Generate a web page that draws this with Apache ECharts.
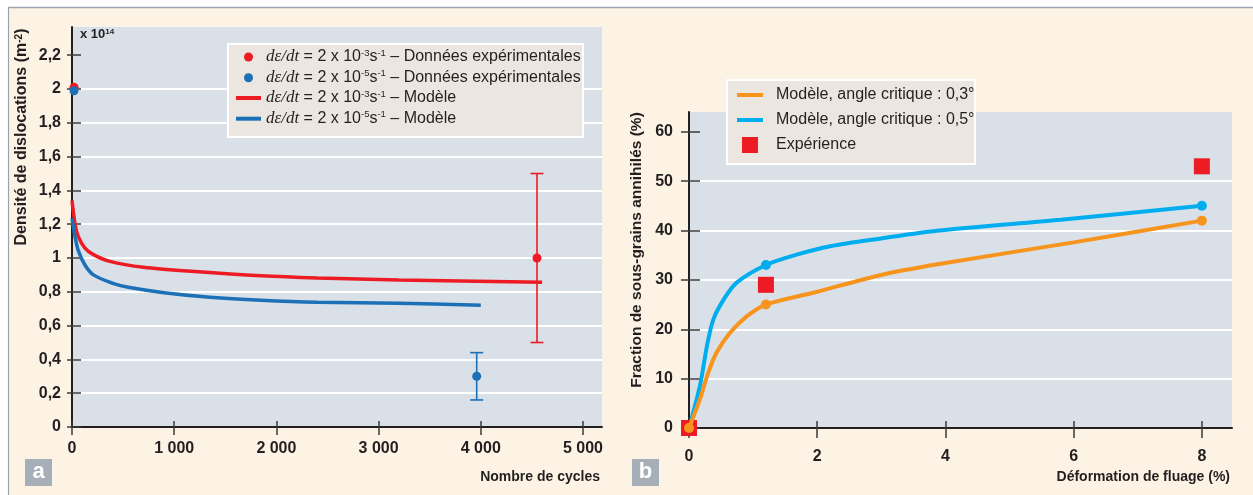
<!DOCTYPE html>
<html>
<head>
<meta charset="utf-8">
<script src="https://cdn.jsdelivr.net/npm/echarts@6/dist/echarts.min.js"></script>
<style>
  html, body { margin: 0; padding: 0; background: #ffffff; }
  #chart { width: 1253px; height: 495px; }
</style>
</head>
<body>
<div id="chart"></div>
<script>
// ---- Panel a: dislocation density (x 10^14 m^-2) versus number of cycles ----
const cyclesRedModel  = [0, 30, 60, 125, 210, 370, 700, 1200, 1850, 2400, 3200, 4600];
const densityRedModel = [1.34, 1.2, 1.13, 1.06, 1.02, 0.98, 0.945, 0.92, 0.895, 0.882, 0.87, 0.857];
const cyclesBlueModel  = [0, 30, 60, 125, 210, 400, 550, 900, 1350, 1850, 2400, 3200, 4000];
const densityBlueModel = [1.235, 1.126, 1.047, 0.96, 0.9, 0.85, 0.827, 0.795, 0.768, 0.75, 0.738, 0.732, 0.72];
const cyclesRedExp   = [20, 4550];
const densityRedExp  = [2.01, 1.0];
const cyclesRedBar   = [4550];
const redBarLow      = [0.5];
const redBarHigh     = [1.5];
const cyclesBlueExp  = [20, 3960];
const densityBlueExp = [1.99, 0.3];
const cyclesBlueBar  = [3960];
const blueBarLow     = [0.16];
const blueBarHigh    = [0.44];
const densityTicks = [0, 0.2, 0.4, 0.6, 0.8, 1, 1.2, 1.4, 1.6, 1.8, 2, 2.2];
const cycleTicks   = [0, 1000, 2000, 3000, 4000, 5000];

// ---- Panel b: fraction of annihilated sub-grains versus creep strain ----
const strain03   = [0, 0.17, 0.3, 0.43, 0.64, 0.9, 1.2, 1.94, 3, 3.9, 6, 8];
const fraction03 = [0, 5.8, 11.2, 15.3, 19.3, 22.6, 25, 27.4, 31, 33.2, 37.6, 42];
const strain05   = [0, 0.17, 0.28, 0.38, 0.54, 0.74, 1.2, 1.68, 2.2, 3, 3.9, 5.8, 8];
const fraction05 = [0, 8.5, 16.6, 22, 26, 29.4, 33, 35.1, 36.8, 38.4, 40, 42.2, 45];
const markedStrains = [0, 1.2, 8];
const strainExp   = [0, 1.2, 8];
const fractionExp = [0, 29, 53];
const fractionTicks = [0, 10, 20, 30, 40, 50, 60];
const strainTicks   = [0, 2, 4, 6, 8];

// Series names and legend labels
const nameRedExp   = 'dε/dt = 2 x 10-3 s-1 – Données expérimentales';
const nameBlueExp  = 'dε/dt = 2 x 10-5 s-1 – Données expérimentales';
const nameRedModel = 'dε/dt = 2 x 10-3 s-1 – Modèle';
const nameBlueModel= 'dε/dt = 2 x 10-5 s-1 – Modèle';
const name03 = 'Modèle, angle critique : 0,3°';
const name05 = 'Modèle, angle critique : 0,5°';
const nameExp = 'Expérience';

const richLegend = {};
richLegend[nameRedExp]    = '{m|dε/dt} = 2 x 10{s|-3}s{s|-1} – Données expérimentales';
richLegend[nameBlueExp]   = '{m|dε/dt} = 2 x 10{s|-5}s{s|-1} – Données expérimentales';
richLegend[nameRedModel]  = '{m|dε/dt} = 2 x 10{s|-3}s{s|-1} – Modèle';
richLegend[nameBlueModel] = '{m|dε/dt} = 2 x 10{s|-5}s{s|-1} – Modèle';

const FONT = '"Liberation Sans", Arial, Helvetica, sans-serif';
const SERIF = '"Liberation Serif", "DejaVu Serif", serif';
const INK = '#231f20';
const RED = '#ed1c24', BLUE = '#1b70b8', CYAN = '#00aeef', ORANGE = '#f7941d';
const PLOT_BG = '#d9e0e7';
const CREAM = '#fdf3e5';
const BOX_BG = '#ebe6df';

function pairs(xs, ys) { return xs.map((x, i) => [x, ys[i]]); }
function thousands(v) { return String(v).replace(/\B(?=(\d{3})+(?!\d))/g, ' '); }
function comma(v) { return String(Math.round(v * 10) / 10).replace('.', ','); }

const tickStyle = { color: '#3a3a3a', width: 1.5 };
const labelBase = { fontFamily: FONT, fontWeight: 'bold', fontSize: 16, color: INK };
const mainLine = { show: true, onZero: false, lineStyle: { color: INK, width: 2 } };

function valueAxis(grid, pos, min, max, interval, extra) {
  return Object.assign({
    type: 'value', gridIndex: grid, position: pos, offset: 0,
    min: min, max: max, interval: interval,
    axisLine: { show: false },
    axisLabel: { show: false },
    splitLine: { show: false }
  }, extra);
}

const legendText = { fontFamily: FONT, fontSize: 16, color: INK, lineHeight: 18 };
const supStyle = { fontFamily: FONT, fontSize: 9.5, lineHeight: 11, verticalAlign: 'top', color: INK };
const mathStyle = { fontFamily: SERIF, fontStyle: 'italic', fontSize: 17, lineHeight: 18, color: INK };

function markedPoints(xs, ys) {
  return xs.map((x, i) => ({
    value: [x, ys[i]],
    symbol: markedStrains.indexOf(x) >= 0 ? 'circle' : 'none'
  }));
}

function errorBarSeries(name, color, xs, lows, highs) {
  return {
    type: 'custom', name: name + ' barre', xAxisIndex: 0, yAxisIndex: 0, z: 3,
    data: xs.map((x, i) => [x, lows[i], highs[i]]),
    encode: { x: 0, y: [1, 2] },
    renderItem: function (params, api) {
      const top = api.coord([api.value(0), api.value(2)]);
      const bot = api.coord([api.value(0), api.value(1)]);
      const w = 6.5;
      const st = { stroke: color, lineWidth: 1.6 };
      return {
        type: 'group',
        children: [
          { type: 'line', shape: { x1: top[0], y1: top[1], x2: bot[0], y2: bot[1] }, style: st },
          { type: 'line', shape: { x1: top[0] - w, y1: top[1], x2: top[0] + w, y2: top[1] }, style: st },
          { type: 'line', shape: { x1: bot[0] - w, y1: bot[1], x2: bot[0] + w, y2: bot[1] }, style: st }
        ]
      };
    }
  };
}

const option = {
  animation: false,
  backgroundColor: CREAM,
  grid: [
    { left: 72, top: 27, right: 651, bottom: 68, show: true, backgroundColor: PLOT_BG, borderWidth: 0 },
    { left: 689, top: 112, right: 21, bottom: 67, show: true, backgroundColor: PLOT_BG, borderWidth: 0 }
  ],
  xAxis: [
    valueAxis(0, 'bottom', 0, 5186, 1000, {
      axisLine: mainLine,
      axisTick: { show: true, inside: false, length: 8, customValues: cycleTicks, lineStyle: tickStyle },
      axisLabel: Object.assign({ customValues: cycleTicks, margin: 14, formatter: thousands }, labelBase)
    }),
    valueAxis(0, 'bottom', 0, 5186, 1000, {
      axisTick: { show: true, inside: true, length: 6, customValues: cycleTicks, lineStyle: tickStyle }
    }),
    valueAxis(1, 'bottom', 0, 8.47, 2, {
      axisLine: mainLine,
      axisTick: { show: true, inside: false, length: 10, customValues: strainTicks, lineStyle: tickStyle },
      axisLabel: Object.assign({ customValues: strainTicks, margin: 21 }, labelBase)
    }),
    valueAxis(1, 'bottom', 0, 8.47, 2, {
      axisTick: { show: true, inside: true, length: 7, customValues: strainTicks, lineStyle: tickStyle }
    })
  ],
  yAxis: [
    valueAxis(0, 'left', 0, 2.367, 0.2, {
      axisLine: mainLine,
      axisTick: { show: true, inside: false, length: 5, customValues: densityTicks, lineStyle: tickStyle },
      axisLabel: Object.assign({ customValues: densityTicks, margin: 11, formatter: comma }, labelBase),
      splitLine: { show: true, showMinLine: false, showMaxLine: false, lineStyle: { color: '#ffffff', width: 2 } }
    }),
    valueAxis(0, 'left', 0, 2.367, 0.2, {
      axisTick: { show: true, inside: true, length: 9, customValues: densityTicks, lineStyle: tickStyle }
    }),
    valueAxis(1, 'left', 0, 64, 10, {
      axisLine: mainLine,
      axisTick: { show: true, inside: false, length: 8, customValues: fractionTicks, lineStyle: tickStyle },
      axisLabel: Object.assign({ customValues: fractionTicks, margin: 16 }, labelBase),
      splitLine: { show: true, showMinLine: false, showMaxLine: false, lineStyle: { color: '#ffffff', width: 2 } }
    }),
    valueAxis(1, 'left', 0, 64, 10, {
      axisTick: { show: true, inside: true, length: 11, customValues: fractionTicks, lineStyle: tickStyle }
    })
  ],
  legend: [
    {
      left: 244, top: 48, orient: 'vertical', padding: 0, itemGap: 2.7,
      itemWidth: 25, itemHeight: 9, icon: 'circle',
      data: [nameRedExp, nameBlueExp],
      formatter: n => richLegend[n],
      textStyle: Object.assign({ rich: { m: mathStyle, s: supStyle } }, legendText)
    },
    {
      left: 236, top: 89, orient: 'vertical', padding: 0, itemGap: 2.7,
      itemWidth: 25, itemHeight: 4, icon: 'rect',
      data: [nameRedModel, nameBlueModel],
      formatter: n => richLegend[n],
      textStyle: Object.assign({ rich: { m: mathStyle, s: supStyle } }, legendText)
    },
    {
      left: 737, top: 86, orient: 'vertical', padding: 0, itemGap: 7,
      itemWidth: 26, itemHeight: 4, icon: 'rect',
      data: [name03, name05],
      formatter: n => '{p|' + n + '}',
      textStyle: Object.assign({ rich: { p: Object.assign({ padding: [0, 0, 0, 8] }, legendText) } }, legendText)
    },
    {
      left: 742, top: 136, orient: 'vertical', padding: 0,
      itemWidth: 16, itemHeight: 16, icon: 'rect',
      data: [nameExp],
      formatter: n => '{p|' + n + '}',
      textStyle: Object.assign({ rich: { p: Object.assign({ padding: [0, 0, 0, 13] }, legendText) } }, legendText)
    }
  ],
  series: [
    {
      type: 'line', name: nameRedModel, xAxisIndex: 0, yAxisIndex: 0, z: 2,
      data: pairs(cyclesRedModel, densityRedModel),
      smooth: 0.3, showSymbol: false,
      itemStyle: { color: RED }, lineStyle: { color: RED, width: 3.5 }
    },
    {
      type: 'line', name: nameBlueModel, xAxisIndex: 0, yAxisIndex: 0, z: 2,
      data: pairs(cyclesBlueModel, densityBlueModel),
      smooth: 0.3, showSymbol: false,
      itemStyle: { color: BLUE }, lineStyle: { color: BLUE, width: 3.5 }
    },
    errorBarSeries(nameRedExp, RED, cyclesRedBar, redBarLow, redBarHigh),
    errorBarSeries(nameBlueExp, BLUE, cyclesBlueBar, blueBarLow, blueBarHigh),
    {
      type: 'scatter', name: nameRedExp, xAxisIndex: 0, yAxisIndex: 0, z: 4,
      data: pairs(cyclesRedExp, densityRedExp), symbol: 'circle', symbolSize: 9,
      itemStyle: { color: RED, opacity: 1 }
    },
    {
      type: 'scatter', name: nameBlueExp, xAxisIndex: 0, yAxisIndex: 0, z: 4,
      data: pairs(cyclesBlueExp, densityBlueExp), symbol: 'circle', symbolSize: 9,
      itemStyle: { color: BLUE, opacity: 1 }
    },
    {
      type: 'line', name: name05, xAxisIndex: 2, yAxisIndex: 2, z: 2,
      data: markedPoints(strain05, fraction05),
      smooth: 0.3, showSymbol: true, showAllSymbol: true, symbolSize: 10,
      itemStyle: { color: CYAN, opacity: 1 }, lineStyle: { color: CYAN, width: 4 }
    },
    {
      type: 'scatter', name: nameExp, xAxisIndex: 2, yAxisIndex: 2, z: 3,
      data: pairs(strainExp, fractionExp), symbol: 'rect', symbolSize: 16,
      itemStyle: { color: RED, opacity: 1 }
    },
    {
      type: 'line', name: name03, xAxisIndex: 2, yAxisIndex: 2, z: 4,
      data: markedPoints(strain03, fraction03),
      smooth: 0.3, showSymbol: true, showAllSymbol: true, symbolSize: 10,
      itemStyle: { color: ORANGE, opacity: 1 }, lineStyle: { color: ORANGE, width: 4 }
    }
  ],
  graphic: [
    // white margin and grey frame around the figure
    { type: 'rect', z: -1, shape: { x: 0, y: 0, width: 1253, height: 7 }, style: { fill: '#ffffff' } },
    { type: 'rect', z: -1, shape: { x: 0, y: 0, width: 8, height: 495 }, style: { fill: '#ffffff' } },
    { type: 'line', z: 1, shape: { x1: 8, y1: 7.5, x2: 1253, y2: 7.5 }, style: { stroke: '#9aa3ad', lineWidth: 1.5 } },
    { type: 'line', z: 1, shape: { x1: 8.5, y1: 7, x2: 8.5, y2: 495 }, style: { stroke: '#9aa3ad', lineWidth: 1.2 } },
    // legend boxes
    { type: 'rect', z: 3, shape: { x: 228, y: 44, width: 355, height: 93 }, style: { fill: BOX_BG, stroke: '#ffffff', lineWidth: 2 } },
    { type: 'rect', z: 3, shape: { x: 727, y: 80, width: 248, height: 84 }, style: { fill: BOX_BG, stroke: '#ffffff', lineWidth: 2 } },
    // axis titles
    {
      type: 'text', z: 5, x: 22, y: 137, rotation: Math.PI / 2,
      style: {
        text: 'Densité de dislocations (m{s|-2})', align: 'center', verticalAlign: 'middle',
        fontFamily: FONT, fontWeight: 'bold', fontSize: 16, fill: INK,
        rich: { s: { fontFamily: FONT, fontWeight: 'bold', fontSize: 10, lineHeight: 12, verticalAlign: 'top', fill: INK } }
      }
    },
    {
      type: 'text', z: 5, x: 80, y: 34,
      style: {
        text: 'x 10{s|14}', align: 'left', verticalAlign: 'middle',
        fontFamily: FONT, fontWeight: 'bold', fontSize: 13, fill: INK,
        rich: { s: { fontFamily: FONT, fontWeight: 'bold', fontSize: 8, lineHeight: 10, verticalAlign: 'top', fill: INK } }
      }
    },
    {
      type: 'text', z: 5, x: 600, y: 477,
      style: { text: 'Nombre de cycles', align: 'right', verticalAlign: 'middle', fontFamily: FONT, fontWeight: 'bold', fontSize: 14, fill: INK }
    },
    {
      type: 'text', z: 5, x: 637, y: 250, rotation: Math.PI / 2,
      style: { text: 'Fraction de sous-grains annihilés (%)', align: 'center', verticalAlign: 'middle', fontFamily: FONT, fontWeight: 'bold', fontSize: 15.5, fill: INK }
    },
    {
      type: 'text', z: 5, x: 1230, y: 477,
      style: { text: 'Déformation de fluage (%)', align: 'right', verticalAlign: 'middle', fontFamily: FONT, fontWeight: 'bold', fontSize: 14, fill: INK }
    },
    // panel tags
    { type: 'rect', z: 5, shape: { x: 25, y: 459, width: 27, height: 27 }, style: { fill: '#a6afb8' } },
    { type: 'text', z: 6, x: 38.5, y: 472, style: { text: 'a', align: 'center', verticalAlign: 'middle', fontFamily: FONT, fontWeight: 'bold', fontSize: 22, fill: '#ffffff' } },
    { type: 'rect', z: 5, shape: { x: 632, y: 459, width: 27, height: 27 }, style: { fill: '#a6afb8' } },
    { type: 'text', z: 6, x: 645.5, y: 472, style: { text: 'b', align: 'center', verticalAlign: 'middle', fontFamily: FONT, fontWeight: 'bold', fontSize: 22, fill: '#ffffff' } }
  ]
};

const chart = echarts.init(document.getElementById('chart'), null, { renderer: 'canvas' });
chart.setOption(option);
</script>
</body>
</html>
